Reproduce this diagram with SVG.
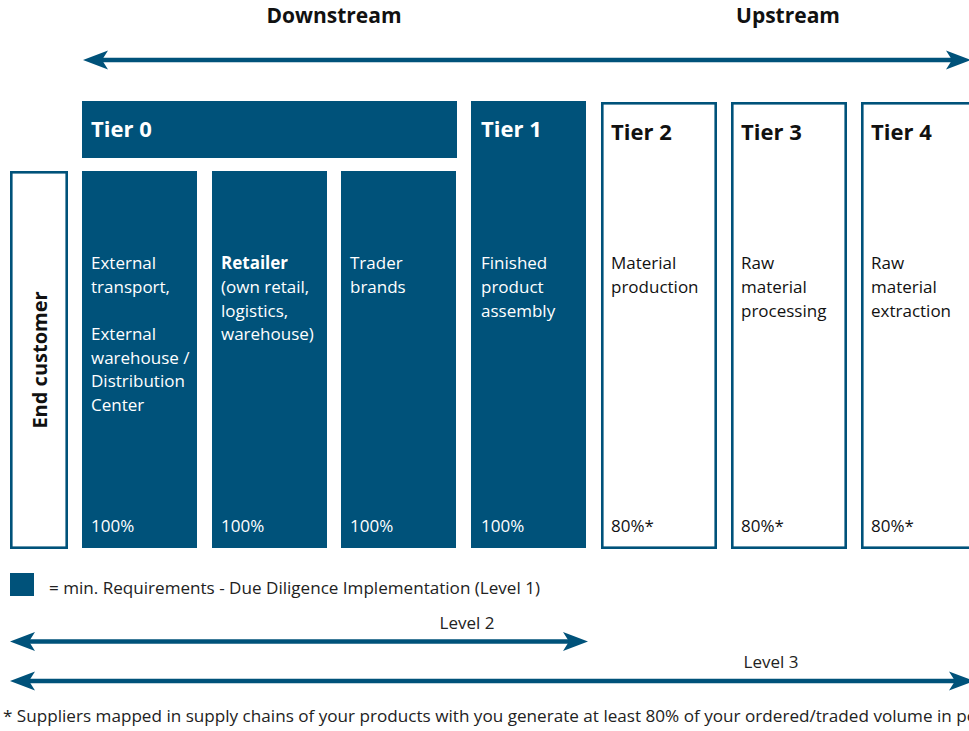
<svg xmlns="http://www.w3.org/2000/svg" width="969" height="731" viewBox="0 0 969 731">
<style>
.fill{fill:#00527a}
.out{fill:#fff;stroke:#00527a;stroke-width:2.6}
.hd{font-family:"Open Sans","Liberation Sans",sans-serif;font-weight:700;font-size:21px}
.ec{font-size:20px}
.th{font-size:22px}
.tw{fill:#fff}
.tb{fill:#111}
.bd{font-family:"Open Sans","Liberation Sans",sans-serif;font-size:17px}
.sm{font-family:"Open Sans","Liberation Sans",sans-serif;font-size:15.5px;fill:#222}
.lv{font-size:17px}
.arr{stroke:#00527a;stroke-width:4.5;fill:none}
</style>
<defs>
<marker id="ah" markerUnits="userSpaceOnUse" markerWidth="26" markerHeight="20" refX="15" refY="10" orient="auto-start-reverse" viewBox="0 0 26 20">
<path d="M0,0.5 L25,10 L0,19.5 L6,10 Z" fill="#00527a"/>
</marker>
</defs>

<text class="hd tb" x="334" y="23" text-anchor="middle">Downstream</text>
<text class="hd tb" x="788" y="23" text-anchor="middle">Upstream</text>

<g id="connectors">
<line class="arr" x1="93" y1="60" x2="961" y2="60" marker-start="url(#ah)" marker-end="url(#ah)"/>
<line class="arr" x1="20" y1="641.5" x2="578" y2="641.5" marker-start="url(#ah)" marker-end="url(#ah)"/>
<line class="arr" x1="20" y1="681" x2="964" y2="681" marker-start="url(#ah)" marker-end="url(#ah)"/>
</g>

<g id="end-customer">
<rect class="out" x="11.3" y="172.3" width="55.4" height="375.4"/>
<text class="hd ec tb" transform="translate(47,360) rotate(-90)" text-anchor="middle">End customer</text>
</g>

<g id="tier0">
<rect class="fill" x="82" y="101" width="375" height="57"/>
<text class="hd th tw" x="91" y="137">Tier 0</text>
</g>

<g id="external">
<rect class="fill" x="82" y="171" width="115" height="377"/>
<text class="bd tw" x="91">
<tspan x="91" y="269">External</tspan>
<tspan x="91" y="293">transport,</tspan>
<tspan x="91" y="340">External</tspan>
<tspan x="91" y="364">warehouse /</tspan>
<tspan x="91" y="387">Distribution</tspan>
<tspan x="91" y="411">Center</tspan>
</text>
<text class="bd tw" x="91" y="532">100%</text>
</g>

<g id="retailer">
<rect class="fill" x="212" y="171" width="115" height="377"/>
<text class="bd tw">
<tspan x="221" y="269" font-weight="700">Retailer</tspan>
<tspan x="221" y="293">(own retail,</tspan>
<tspan x="221" y="317">logistics,</tspan>
<tspan x="221" y="340">warehouse)</tspan>
</text>
<text class="bd tw" x="221" y="532">100%</text>
</g>

<g id="trader">
<rect class="fill" x="341" y="171" width="115" height="377"/>
<text class="bd tw">
<tspan x="350" y="269">Trader</tspan>
<tspan x="350" y="293">brands</tspan>
</text>
<text class="bd tw" x="350" y="532">100%</text>
</g>

<g id="tier1">
<rect class="fill" x="471" y="101" width="115" height="447"/>
<text class="hd th tw" x="481" y="137">Tier 1</text>
<text class="bd tw">
<tspan x="481" y="269">Finished</tspan>
<tspan x="481" y="293">product</tspan>
<tspan x="481" y="317">assembly</tspan>
</text>
<text class="bd tw" x="481" y="532">100%</text>
</g>

<g id="tier2">
<rect class="out" x="602.3" y="103.3" width="113.4" height="444.4"/>
<text class="hd th tb" x="611" y="140">Tier 2</text>
<text class="bd tb">
<tspan x="611" y="269">Material</tspan>
<tspan x="611" y="293">production</tspan>
</text>
<text class="bd tb" x="611" y="532">80%*</text>
</g>

<g id="tier3">
<rect class="out" x="732.3" y="103.3" width="113.4" height="444.4"/>
<text class="hd th tb" x="741" y="140">Tier 3</text>
<text class="bd tb">
<tspan x="741" y="269">Raw</tspan>
<tspan x="741" y="293">material</tspan>
<tspan x="741" y="317">processing</tspan>
</text>
<text class="bd tb" x="741" y="532">80%*</text>
</g>

<g id="tier4">
<rect class="out" x="862.3" y="103.3" width="113.4" height="444.4"/>
<text class="hd th tb" x="871" y="140">Tier 4</text>
<text class="bd tb">
<tspan x="871" y="269">Raw</tspan>
<tspan x="871" y="293">material</tspan>
<tspan x="871" y="317">extraction</tspan>
</text>
<text class="bd tb" x="871" y="532">80%*</text>
</g>

<g id="legend">
<rect class="fill" x="10" y="573" width="24" height="23"/>
<text class="sm lv" x="49" y="594" textLength="491" lengthAdjust="spacingAndGlyphs">= min. Requirements - Due Diligence Implementation (Level 1)</text>
</g>

<text class="sm lv" x="467" y="629" text-anchor="middle">Level 2</text>
<text class="sm lv" x="771" y="668" text-anchor="middle">Level 3</text>

<text class="sm" x="3" y="722" textLength="974" lengthAdjust="spacingAndGlyphs">* Suppliers mapped in supply chains of your products with you generate at least 80% of your ordered/traded volume in po</text>
</svg>
